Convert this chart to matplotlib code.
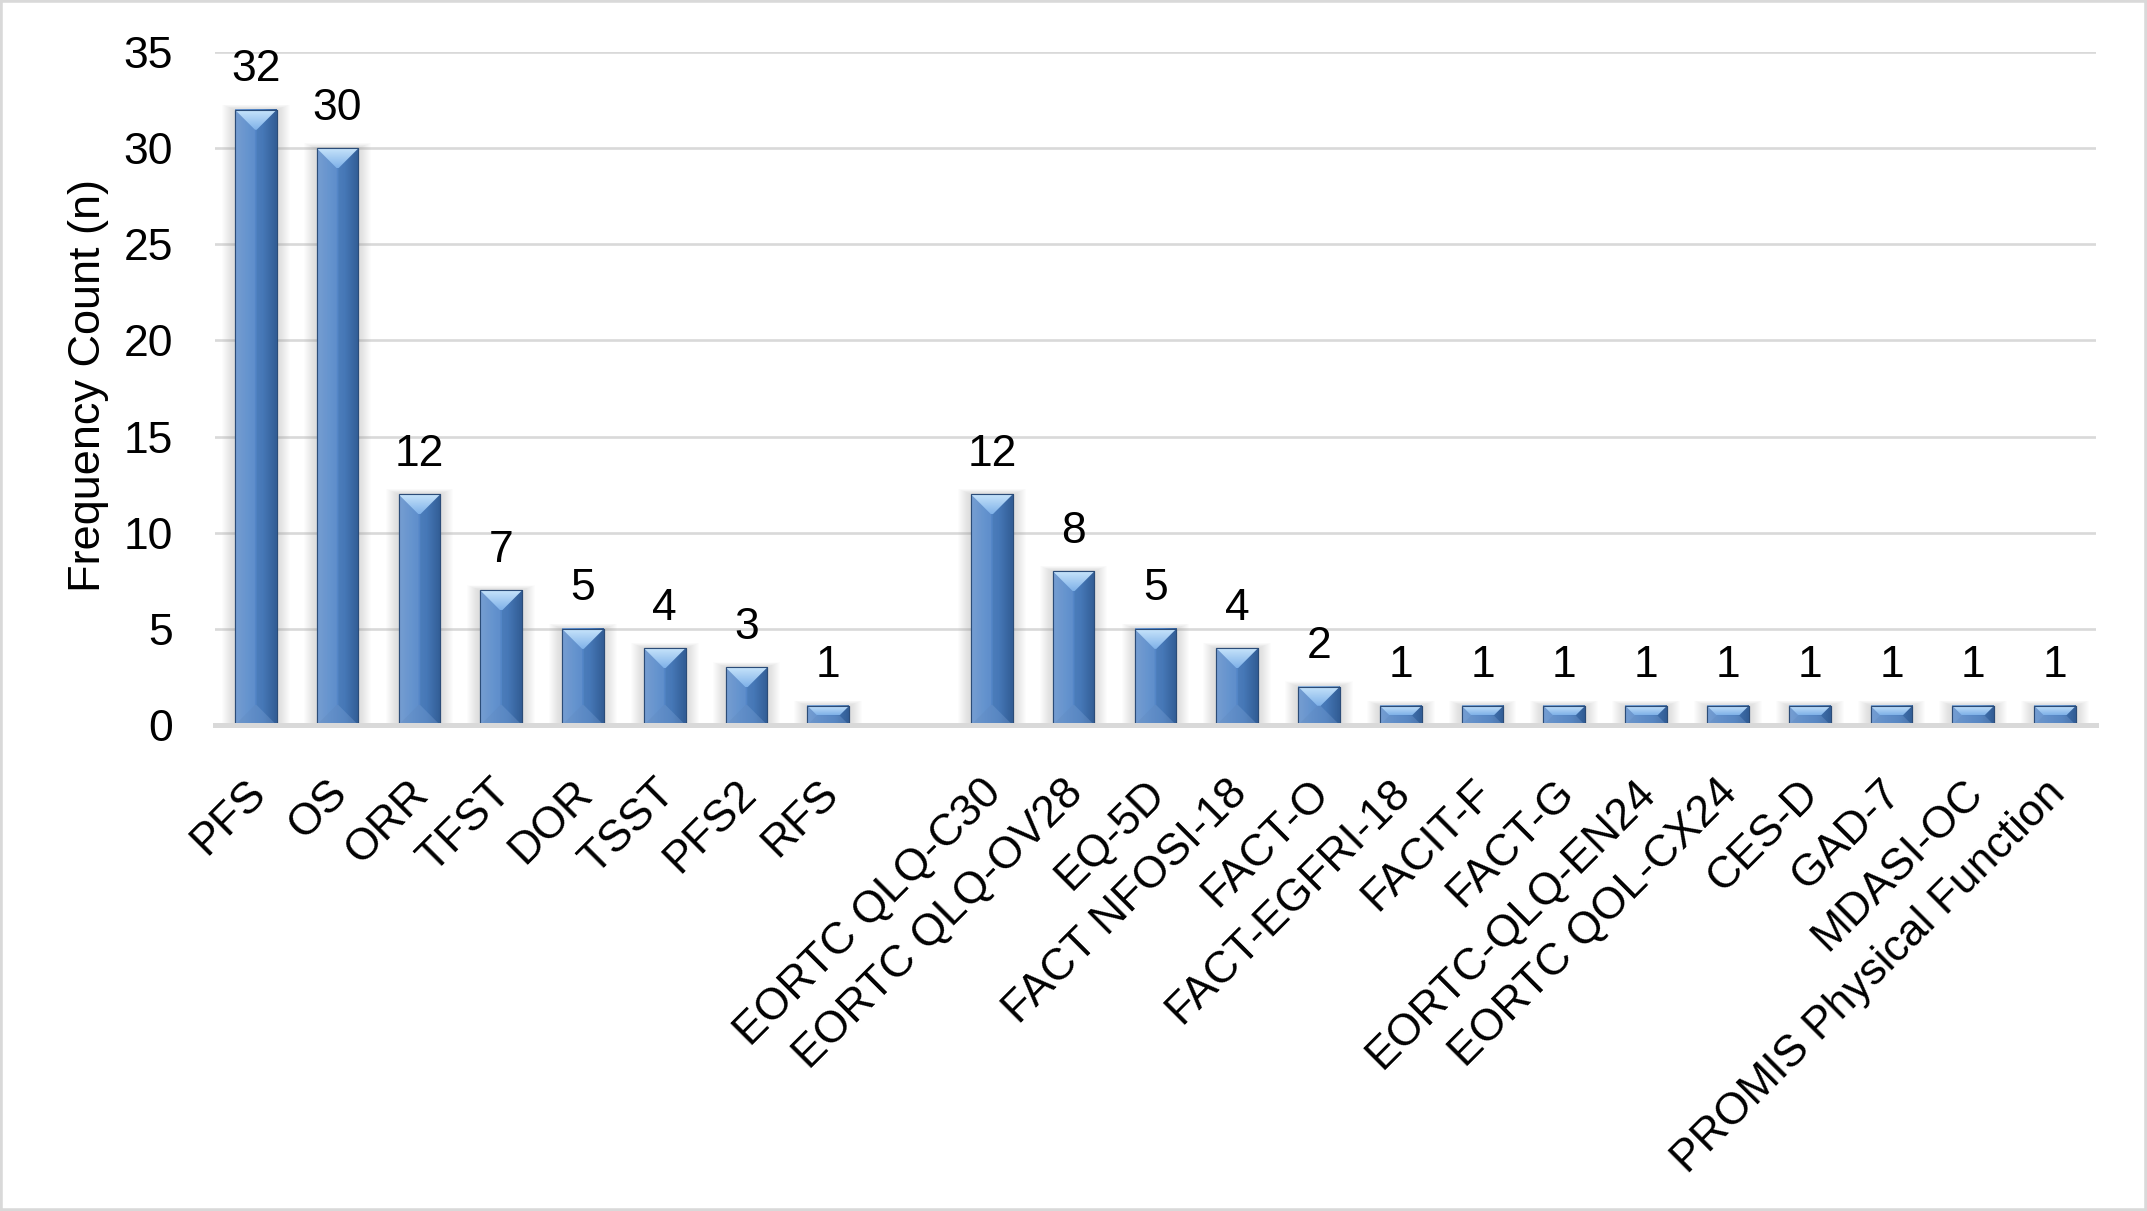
import numpy as np
import matplotlib
matplotlib.use('Agg')
import matplotlib.pyplot as plt
import matplotlib.transforms as mtrans
from matplotlib.patches import Polygon, Rectangle
from matplotlib.colors import LinearSegmentedColormap

plt.rcParams['font.family'] = ['Liberation Sans', 'DejaVu Sans']

# outcome measures; the empty slot separates clinical endpoints from PRO instruments
labels = ['PFS', 'OS', 'ORR', 'TFST', 'DOR', 'TSST', 'PFS2', 'RFS', '',
          'EORTC QLQ-C30', 'EORTC QLQ-OV28', 'EQ-5D', 'FACT NFOSI-18', 'FACT-O',
          'FACT-EGFRI-18', 'FACIT-F', 'FACT-G', 'EORTC-QLQ-EN24', 'EORTC QOL-CX24',
          'CES-D', 'GAD-7', 'MDASI-OC', 'PROMIS Physical Function']
counts = [32, 30, 12, 7, 5, 4, 3, 1, np.nan,
          12, 8, 5, 4, 2, 1, 1, 1, 1, 1, 1, 1, 1, 1]

GRID = '#D9D9D9'
FS = 32

fig = plt.figure(figsize=(21.47, 12.11), dpi=100)
ax = fig.add_axes([0.1001, 0.4013, 0.8761, 0.5557])

x = np.arange(len(labels))
vals = np.array(counts, dtype=float)
has = ~np.isnan(vals)

ax.set_xlim(-0.5, len(labels) - 0.5)
ax.set_ylim(0, 35)
ax.set_yticks(np.arange(0, 36, 5))
ax.yaxis.grid(True, color=GRID, linewidth=1.9)
ax.set_axisbelow(True)

bars = ax.bar(x[has], vals[has], width=0.51, color='#4F83C4',
              edgecolor='#2B4C78', linewidth=0.8, zorder=3)

body_cmap = LinearSegmentedColormap.from_list(
    'body', ['#7099CF', '#5B8DCC', '#4C80C2', '#35619B'])
top_cmap = LinearSegmentedColormap.from_list('top', ['#80B2E8', '#C6E3FB'])
grad_h = np.linspace(0, 1, 64).reshape(1, -1)
grad_v = np.linspace(0, 1, 32).reshape(-1, 1)

to_data = ax.transData.inverted()

for rect in bars:
    x0, w, h = rect.get_x(), rect.get_width(), rect.get_height()
    (px0, py0), (px1, py1) = ax.transData.transform([(x0, 0), (x0 + w, h)])
    # soft shadow
    for k in range(1, 14):
        (sx0, sy0), (sx1, sy1) = to_data.transform([(px0 - k, py0), (px1 + k, py1 + k * 0.4)])
        ax.add_patch(Rectangle((sx0, sy0), sx1 - sx0, sy1 - sy0, facecolor='#808080',
                               edgecolor='none', alpha=0.02, zorder=2.6))
    # body gradient
    ax.imshow(grad_h, cmap=body_cmap, extent=[x0, x0 + w, 0, h],
              aspect='auto', zorder=3.1, interpolation='bilinear')
    b = min(20, (px1 - px0) / 2, (py1 - py0) / 2)
    top = to_data.transform([(px0, py1), (px1, py1), (px1 - b, py1 - b), (px0 + b, py1 - b)])
    bot = to_data.transform([(px0, py0), (px1, py0), (px1 - b, py0 + b), (px0 + b, py0 + b)])
    lft = to_data.transform([(px0, py0), (px0 + b, py0 + b), (px0 + b, py1 - b), (px0, py1)])
    rgt = to_data.transform([(px1, py0), (px1 - b, py0 + b), (px1 - b, py1 - b), (px1, py1)])
    ax.add_patch(Polygon(bot, closed=True, facecolor='#7094C4', edgecolor='none',
                         alpha=0.35, zorder=3.2))
    ax.add_patch(Polygon(lft, closed=True, facecolor='#9AB8DE', edgecolor='none',
                         alpha=0.15, zorder=3.2))
    ax.add_patch(Polygon(rgt, closed=True, facecolor='#1E3F6A', edgecolor='none',
                         alpha=0.12, zorder=3.2))
    tp = Polygon(top, closed=True, facecolor='none', edgecolor='none', zorder=3.3)
    ax.add_patch(tp)
    im = ax.imshow(grad_v, cmap=top_cmap, origin='lower',
                   extent=[x0, x0 + w, top[2][1], h], aspect='auto',
                   zorder=3.3, interpolation='bilinear')
    im.set_clip_path(tp)
    ax.add_patch(Rectangle((x0, 0), w, h, facecolor='none', edgecolor='#2B4C78',
                           linewidth=0.8, zorder=3.4))

for xi, v in zip(x[has], vals[has]):
    ax.annotate(f'{int(v)}', (xi, v), xytext=(0, 14), textcoords='offset points',
                ha='center', va='bottom', fontsize=FS, color='black')

ax.set_xlim(-0.5, len(labels) - 0.5)
ax.set_ylim(0, 35)
ax.set_xticks(x)
ax.set_xticklabels(labels, rotation=45, ha='right', va='top',
                   rotation_mode='anchor', fontsize=FS)
ax.tick_params(axis='x', length=0, pad=34)
ax.tick_params(axis='y', length=0, pad=30, labelsize=FS)
shift = mtrans.ScaledTranslation(-8 / 72, 0, fig.dpi_scale_trans)
for lab in ax.get_xticklabels():
    lab.set_transform(lab.get_transform() + shift)

ax.set_ylabel('Frequency Count (n)', fontsize=32.5, va='center')
ax.yaxis.set_label_coords(-0.067, 0.505)

for s in ['top', 'right', 'left']:
    ax.spines[s].set_visible(False)
ax.spines['bottom'].set_color(GRID)
ax.spines['bottom'].set_linewidth(3.6)
ax.spines['bottom'].set_zorder(4)

fig.patches.append(Rectangle((0, 0), 1, 1, transform=fig.transFigure, fill=False,
                             edgecolor=GRID, linewidth=4))

fig.savefig('out.png', dpi=100)
